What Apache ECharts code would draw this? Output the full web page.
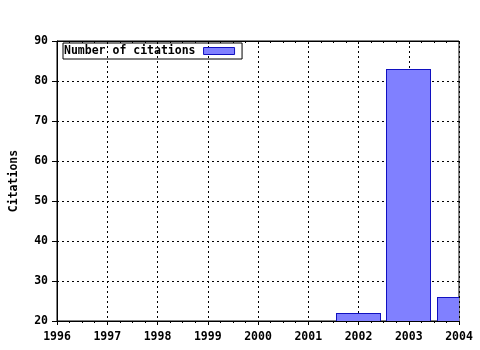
<!DOCTYPE html>
<html><head><meta charset="utf-8">
<script src="https://cdn.jsdelivr.net/npm/echarts@6/dist/echarts.min.js"></script>
<style>html,body{margin:0;padding:0;background:#fff}#c{width:480px;height:350px}</style>
</head><body><div id="c"></div>
<script>
const years = [2002, 2003, 2004];
const citations = [22, 83, 26];
const xTicks = [1996, 1997, 1998, 1999, 2000, 2001, 2002, 2003, 2004];
const yTicks = [20, 30, 40, 50, 60, 70, 80, 90];
const seriesName = 'Number of citations';
const yName = 'Citations';

const font = 'DejaVu Sans Mono';
const FILL = '#8080ff', STROKE = '#1010c0';
const chart = echarts.init(document.getElementById('c'), null, {renderer: 'canvas'});
const axisTxt = {fontFamily: font, fontWeight: 'bold', fontSize: 11.5, color: '#000'};
const yMin = yTicks[0];

function renderBar(params, api) {
  const area = params.coordSys;
  const x = api.value(0), y = api.value(1);
  const pTop = api.coord([x, y]);
  const pBot = api.coord([x, yMin]);
  const w = Math.round(api.size([1, 0])[0] * 0.9);
  const x0 = Math.round(pTop[0] - w / 2), x1 = x0 + w;
  const top = Math.round(pTop[1]), bot = Math.round(pBot[1]);
  const clipped = echarts.graphic.clipRectByRect(
    {x: x0, y: top, width: w, height: bot - top},
    {x: area.x, y: area.y, width: area.width, height: area.height});
  if (!clipped) return null;
  const children = [{type: 'rect', shape: clipped, style: {fill: FILL}}];
  const ln = (a, b, c, d) => ({type: 'line', shape: {x1: a, y1: b, x2: c, y2: d},
    style: {stroke: STROKE, lineWidth: 1}});
  const cb = clipped.y + clipped.height;
  if (x0 >= area.x) children.push(ln(x0 + 0.5, top + 0.5, x0 + 0.5, cb));
  if (x1 <= area.x + area.width) children.push(ln(x1 - 0.5, top + 0.5, x1 - 0.5, cb));
  if (top >= area.y) children.push(ln(clipped.x, top + 0.5, clipped.x + clipped.width, top + 0.5));
  return {type: 'group', children};
}

chart.setOption({
  animation: false,
  backgroundColor: '#fff',
  grid: {left: 57, right: 21, top: 41, bottom: 29, show: true, borderColor: '#000', borderWidth: 1,
         containLabel: false, outerBoundsMode: 'none'},
  legend: {
    left: 63, top: 43, orient: 'horizontal', align: 'right',
    icon: 'rect', itemWidth: 31, itemHeight: 7,
    itemStyle: {color: FILL, borderColor: STROKE, borderWidth: 1},
    borderColor: '#000', borderWidth: 1, borderRadius: 0, padding: [2, 7, 2, 1],
    textStyle: {fontFamily: font, fontWeight: 'bold', fontSize: 11.5, color: '#000', padding: [0, 3, 0, 0]},
    data: [seriesName]
  },
  xAxis: [{
    type: 'value', min: xTicks[0], max: xTicks[xTicks.length - 1], interval: 1,
    axisLine: {onZero: false, lineStyle: {color: '#000', width: 1}},
    axisTick: {show: true, inside: false, length: 4, lineStyle: {color: '#000'}},
    minorTick: {show: true, splitNumber: 4, length: 2, lineStyle: {color: '#000'}},
    axisLabel: Object.assign({margin: 10, formatter: v => String(v)}, axisTxt),
    splitLine: {show: true, lineStyle: {color: '#000', type: [2, 3], width: 1}}
  }, {
    type: 'value', position: 'top', min: xTicks[0], max: xTicks[xTicks.length - 1], interval: 1,
    axisLine: {show: true, lineStyle: {color: '#000'}},
    axisTick: {show: true, inside: true, length: 3, lineStyle: {color: '#000'}},
    minorTick: {show: true, splitNumber: 4, length: 2, lineStyle: {color: '#000'}},
    axisLabel: {show: false}, splitLine: {show: false}
  }],
  yAxis: {
    type: 'value', min: yTicks[0], max: yTicks[yTicks.length - 1], interval: 10,
    name: yName, nameLocation: 'middle', nameGap: 37, nameRotate: 90,
    nameTextStyle: {fontFamily: font, fontWeight: 'bold', fontSize: 11.5, color: '#000'},
    axisLine: {show: true, onZero: false, lineStyle: {color: '#000'}},
    axisTick: {show: true, inside: false, length: 5, lineStyle: {color: '#000'}},
    axisLabel: Object.assign({margin: 9}, axisTxt),
    splitLine: {show: true, lineStyle: {color: '#000', type: [2, 3], width: 1}}
  },
  series: [{
    name: seriesName, type: 'custom', renderItem: renderBar,
    itemStyle: {color: FILL, borderColor: STROKE, borderWidth: 1},
    encode: {x: 0, y: 1},
    data: years.map((y, i) => [y, citations[i]])
  }]
});
</script></body></html>
